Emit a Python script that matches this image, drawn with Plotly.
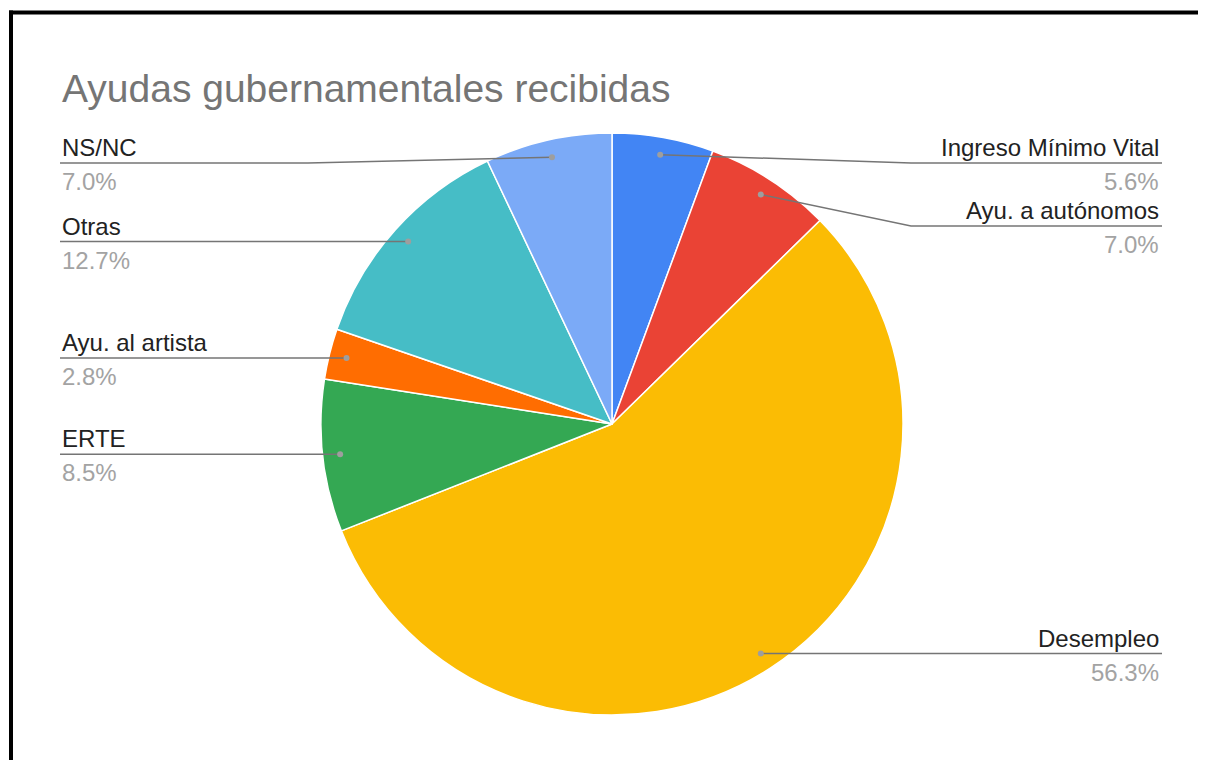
import numpy as np
import plotly.graph_objects as go

# ---- data ----
categories = ["Ingreso Mínimo Vital", "Ayu. a autónomos", "Desempleo", "ERTE",
              "Ayu. al artista", "Otras", "NS/NC"]
counts = [4, 5, 40, 6, 2, 9, 5]
colors = ["#4285F4", "#EA4335", "#FBBC04", "#34A853", "#FF6D01", "#46BDC6", "#7BAAF7"]
title_text = "Ayudas gubernamentales recibidas"

# ---- layout constants (pixels, in page coordinates) ----
PAGE_W, PAGE_H = 1206, 760
OFF = 8  # default page body margin
W, H = PAGE_W - OFF, PAGE_H - OFF
CX, CY, R = 612, 424, 291
DOT_R = 0.94 * R
side = ["right", "right", "right", "left", "left", "left", "left"]
line_y_override = {0: 163, 1: 226, 6: 163}
BEND_X = {"right": 911, "left": 308}
END_X = {"right": 1162, "left": 60}
FONT = "Arial, Liberation Sans, sans-serif"


def px(x):
    return (x - OFF) / W


def py(y):
    return 1 - (y - OFF) / H


vals = np.array(counts, dtype=float)
frac = vals / vals.sum()
cum = np.cumsum(frac) - frac / 2
ang = 2 * np.pi * cum
dot_x = CX + DOT_R * np.sin(ang)
dot_y = CY - DOT_R * np.cos(ang)

fig = go.Figure(go.Pie(
    labels=categories, values=counts, sort=False, direction="clockwise", rotation=0,
    marker=dict(colors=colors, line=dict(color="white", width=1.5)),
    textinfo="none", hoverinfo="label+percent", showlegend=False,
    domain=dict(x=[px(CX - R), px(CX + R)], y=[py(CY + R), py(CY - R)]),
))

shapes = []
annotations = []
for i, name in enumerate(categories):
    s = side[i]
    ly = line_y_override.get(i, dot_y[i])
    if i in line_y_override:
        path = f"M{px(dot_x[i])},{py(dot_y[i])} L{px(BEND_X[s])},{py(ly)} L{px(END_X[s])},{py(ly)}"
    else:
        path = f"M{px(dot_x[i])},{py(dot_y[i])} L{px(END_X[s])},{py(ly)}"
    shapes.append(dict(type="path", xref="paper", yref="paper", path=path,
                       line=dict(color="#757575", width=1.5), layer="above"))
    shapes.append(dict(type="circle", xref="paper", yref="paper",
                       x0=px(dot_x[i] - 3), x1=px(dot_x[i] + 3),
                       y0=py(dot_y[i] + 3), y1=py(dot_y[i] - 3),
                       fillcolor="#9e9e9e", line=dict(width=0), layer="above"))
    xa = "right" if s == "right" else "left"
    xx = px(END_X[s] - 1) if s == "right" else px(END_X[s])
    annotations.append(dict(text=name, x=xx, y=py(ly), xref="paper", yref="paper",
                            xanchor=xa, yanchor="bottom", showarrow=False,
                            font=dict(family=FONT, size=24, color="#222222")))
    annotations.append(dict(text=f"{100 * frac[i]:.1f}%", x=xx, y=py(ly + 3),
                            xref="paper", yref="paper", xanchor=xa, yanchor="top",
                            showarrow=False,
                            font=dict(family=FONT, size=24, color="#a3a3a3")))

annotations.append(dict(text=title_text, x=px(60), y=py(88), xref="paper", yref="paper",
                        xanchor="left", yanchor="middle", showarrow=False,
                        font=dict(family=FONT, size=39, color="#757575")))

# frame (left and top edges)
shapes.append(dict(type="line", xref="paper", yref="paper", x0=px(11), x1=px(11),
                   y0=py(10.5), y1=0, line=dict(color="black", width=4), layer="above"))
shapes.append(dict(type="line", xref="paper", yref="paper", x0=px(9), x1=1,
                   y0=py(12.5), y1=py(12.5), line=dict(color="black", width=4), layer="above"))

fig.update_layout(width=W, height=H, margin=dict(l=0, r=0, t=0, b=0),
                  paper_bgcolor="white", plot_bgcolor="white",
                  shapes=shapes, annotations=annotations)
fig.write_html("out.html")
